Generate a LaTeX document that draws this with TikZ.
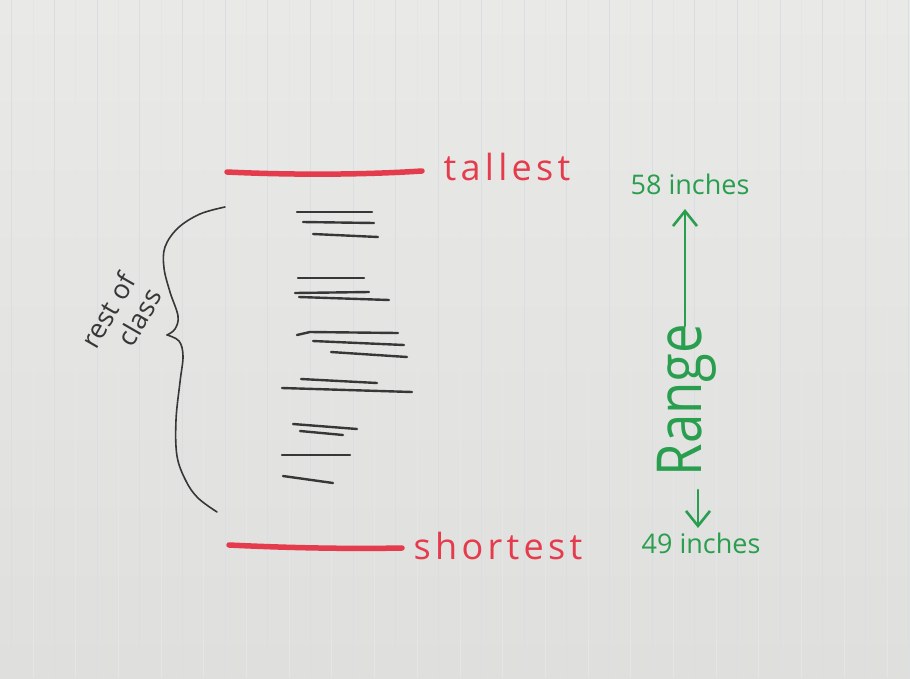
\documentclass[tikz,border=0pt]{standalone}
\usepackage{fontspec}
\setmainfont{Open Sans}
\usetikzlibrary{arrows.meta}
\definecolor{papertop}{RGB}{233,233,231}
\definecolor{papermid}{RGB}{240,240,238}
\definecolor{paperbot}{RGB}{223,223,221}
\definecolor{gridline}{RGB}{218,221,225}
\definecolor{gridfaint}{RGB}{227,229,231}
\definecolor{penred}{RGB}{228,60,76}
\definecolor{pengreen}{RGB}{40,158,78}
\definecolor{pencil}{RGB}{55,55,55}
\tikzset{
  redmark/.style={penred, line width=5.5pt, line cap=round},
  tally/.style={pencil, line width=2.4pt, line cap=round},
  bracestroke/.style={pencil, line width=1.6pt, line cap=round, line join=round},
  redtext/.style={penred, inner sep=0pt, font=\fontsize{36}{40}\selectfont\addfontfeatures{LetterSpace=12}},
  greentext/.style={pengreen, inner sep=0pt, font=\fontsize{27}{30}\selectfont},
  rangetext/.style={pengreen, inner sep=0pt, font=\fontsize{62}{66}\selectfont, rotate=90},
  classtext/.style={pencil, inner sep=0pt, align=left, font=\fontsize{27}{30}\selectfont},
  rangearrow/.style={pengreen, line width=2.6pt, line cap=round, -{Straight Barb[length=15pt,width=24pt,line width=2.6pt]}},
}
\begin{document}
\begin{tikzpicture}[x=1pt,y=-1pt]
\useasboundingbox (0,0) rectangle (910,678);
% paper
\shade[top color=papertop, middle color=papermid, bottom color=paperbot] (0,0) rectangle (910,678);
\foreach \k in {0,...,21} {
  \draw[gridline, line width=0.8pt] ({11.5+42.7*\k},0) -- ({11.5+42.7*\k},678);
  \draw[gridfaint, line width=0.6pt] ({32.85+42.7*\k},0) -- ({32.85+42.7*\k},678);
}
% extremes
\coordinate (t1) at (227,172);
\coordinate (t2) at (422,171);
\coordinate (s1) at (229,545);
\coordinate (s2) at (402,548);
\draw[redmark] (t1) .. controls (290,175) and (360,175) .. (t2);
\draw[redmark] (s1) .. controls (290,548) and (350,549) .. (s2);
\node[redtext] (tallest) at (507,167) {tallest};
\node[redtext] (shortest) at (498,546) {shortest};
% rest of class marks
\foreach \a/\b/\c/\d [count=\i] in {
 297/212/372/212, 303/222/374/223, 313/234/378/237,
 298/278/364/278, 295/293/369/292, 299/297/389/300,
 310/332/398/333, 313/341/404/345, 331/352/407/357,
 301/379/377/383, 282/388/412/392,
 293/424/357/429, 300/431/343/435,
 282/455/350/455, 283/476/333/483} {
  \coordinate (m\i a) at (\a,\b);
  \coordinate (m\i b) at (\c,\d);
  \draw[tally] (m\i a) -- (m\i b);
}
\draw[tally] (297,335) -- (m7a);
% brace
\coordinate (bt) at (225,207);
\coordinate (bc) at (167,335);
\coordinate (bb) at (217,512);
\draw[bracestroke] plot[smooth, tension=0.6] coordinates {(bt) (200,214) (178,228) (165,247) (164,268) (170,292) (178,316) (175,329) (bc)};
\draw[bracestroke] plot[smooth, tension=0.6] coordinates {(bc) (179,341) (183,356) (180,382) (176,420) (177,456) (186,481) (198,498) (bb)};
\node[classtext, rotate=60] (restofclass) at (121,318) {rest of\\\hspace*{20pt}class};
% range
\node[greentext] (top) at (690,184) {58 inches};
\node[greentext] (bottom) at (701,543) {49 inches};
\node[rangetext] (range) at (687,400) {\scalebox{0.85}[1]{Range}};
\coordinate (upstart) at (685,326);
\coordinate (uptip) at (685,209);
\coordinate (downstart) at (698,490);
\coordinate (downtip) at (698,528);
\draw[rangearrow] (upstart) -- (uptip);
\draw[rangearrow] (downstart) -- (downtip);
\end{tikzpicture}
\end{document}
